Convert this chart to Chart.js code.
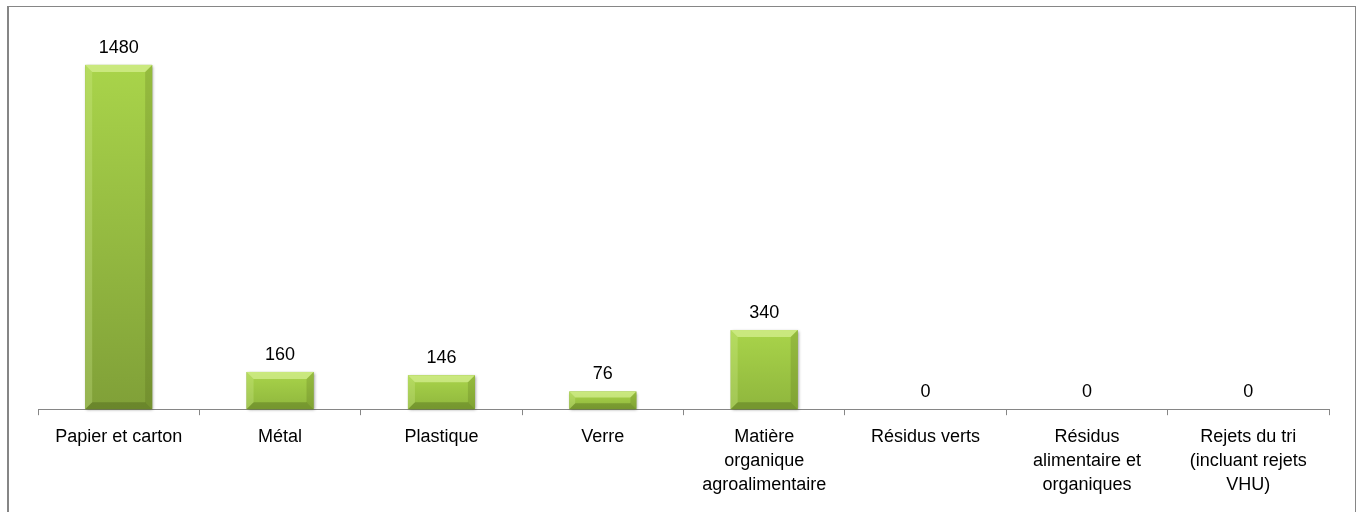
<!DOCTYPE html>
<html>
<head>
<meta charset="utf-8">
<script src="https://cdn.jsdelivr.net/npm/chart.js@4.4.1/dist/chart.umd.min.js"></script>
<style>
  html, body { margin: 0; padding: 0; background: #fff; }
  #frame {
    position: absolute; left: 7px; top: 6px; width: 1346px; height: 510px;
    border-top: 1px solid #868686; border-left: 2px solid #868686; border-right: 1px solid #868686;
  }
  #wrap { position: absolute; left: 0; top: 0; width: 1346px; height: 506px; }
</style>
</head>
<body>
<div id="frame"><div id="wrap"><canvas id="chart"></canvas></div></div>
<script>
// categories and values
const categories = [
    'Papier et carton',
    'Métal',
    'Plastique',
    'Verre',
    ['Matière', 'organique', 'agroalimentaire'],
    'Résidus verts',
    ['Résidus', 'alimentaire et', 'organiques'],
    ['Rejets du tri', '(incluant rejets', 'VHU)']
];
const tonnages = [1480, 160, 146, 76, 340, 0, 0, 0];
const yMax = 1600;

const FONT = "'Liberation Sans', Arial, sans-serif";

// bevelled green bars, drawn over the element rectangles the library computed
const bevelPlugin = {
    id: 'bevel',
    afterDatasetsDraw(chart) {
        const ctx = chart.ctx;
        const meta = chart.getDatasetMeta(0);
        meta.data.forEach((bar, i) => {
            if (!tonnages[i]) return;
            const { x, y, base, width } = bar.getProps(['x', 'y', 'base', 'width'], true);
            const l = x - width / 2, r = x + width / 2, t = y, b = base;
            const h = b - t;
            const bv = Math.min(7, h / 3);
            ctx.save();
            // soft shadow
            ctx.shadowColor = 'rgba(0,0,0,0.45)';
            ctx.shadowBlur = 3;
            ctx.shadowOffsetX = 1;
            ctx.shadowOffsetY = 1;
            ctx.fillStyle = '#86a83a';
            ctx.fillRect(l, t, width, h);
            ctx.shadowColor = 'rgba(0,0,0,0)';
            // face
            const g = ctx.createLinearGradient(0, t, 0, b);
            g.addColorStop(0, '#a9d44a');
            g.addColorStop(1, h > 200 ? '#80a038' : '#8fb63d');
            ctx.fillStyle = g;
            ctx.fillRect(l, t, width, h);
            // top bevel
            ctx.fillStyle = 'rgba(230,250,170,0.55)';
            ctx.beginPath();
            ctx.moveTo(l, t); ctx.lineTo(r, t); ctx.lineTo(r - bv, t + bv); ctx.lineTo(l + bv, t + bv);
            ctx.closePath(); ctx.fill();
            // left bevel
            ctx.fillStyle = 'rgba(220,245,160,0.25)';
            ctx.beginPath();
            ctx.moveTo(l, t); ctx.lineTo(l + bv, t + bv); ctx.lineTo(l + bv, b - bv); ctx.lineTo(l, b);
            ctx.closePath(); ctx.fill();
            // right bevel
            ctx.fillStyle = 'rgba(60,80,10,0.18)';
            ctx.beginPath();
            ctx.moveTo(r, t); ctx.lineTo(r - bv, t + bv); ctx.lineTo(r - bv, b - bv); ctx.lineTo(r, b);
            ctx.closePath(); ctx.fill();
            // bottom bevel
            ctx.fillStyle = 'rgba(50,70,10,0.28)';
            ctx.beginPath();
            ctx.moveTo(l, b); ctx.lineTo(l + bv, b - bv); ctx.lineTo(r - bv, b - bv); ctx.lineTo(r, b);
            ctx.closePath(); ctx.fill();
            ctx.restore();
        });
    }
};

// value labels above each bar
const valueLabels = {
    id: 'valueLabels',
    afterDraw(chart) {
        const ctx = chart.ctx;
        const meta = chart.getDatasetMeta(0);
        ctx.save();
        ctx.font = '18px ' + FONT;
        ctx.fillStyle = '#000';
        ctx.textAlign = 'center';
        ctx.textBaseline = 'bottom';
        meta.data.forEach((bar, i) => {
            ctx.fillText(String(tonnages[i]), bar.x, bar.y - 8);
        });
        ctx.restore();
    }
};

new Chart(document.getElementById('chart'), {
    type: 'bar',
    data: {
        labels: categories,
        datasets: [{
            data: tonnages,
            backgroundColor: 'rgba(0,0,0,0)',
            barPercentage: 0.415,
            categoryPercentage: 1
        }]
    },
    options: {
        responsive: true,
        maintainAspectRatio: false,
        animation: false,
        layout: { padding: { left: 29, right: 26, top: 30, bottom: 6 } },
        plugins: { legend: { display: false }, tooltip: { enabled: false } },
        scales: {
            x: {
                grid: { display: true, drawOnChartArea: false, drawTicks: true, tickLength: 6, color: '#868686', offset: true },
                border: { display: true, color: '#868686', width: 1 },
                ticks: { color: '#000', font: { family: FONT, size: 18, lineHeight: 1.33 }, padding: 10, maxRotation: 0, autoSkip: false }
            },
            y: {
                display: false,
                min: 0,
                max: yMax
            }
        }
    },
    plugins: [bevelPlugin, valueLabels]
});
</script>
</body>
</html>
